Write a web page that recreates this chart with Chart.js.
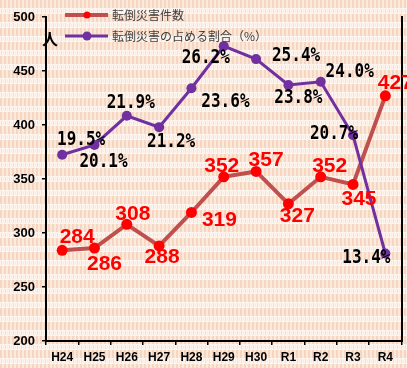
<!DOCTYPE html>
<html lang="ja">
<head>
<meta charset="utf-8">
<title>転倒災害</title>
<style>
  html, body { margin: 0; padding: 0; background: #fbeee4; }
  #chart { display: block; }
</style>
</head>
<body>
<canvas id="chart" width="407" height="368"></canvas>
<script src="https://cdn.jsdelivr.net/npm/chart.js"></script>
<script>
// data
const years = ['H24', 'H25', 'H26', 'H27', 'H28', 'H29', 'H30', 'R1', 'R2', 'R3', 'R4'];
const accidentCounts = [284, 286, 308, 288, 319, 352, 357, 327, 352, 345, 427];
const accidentShare = [19.5, 20.1, 21.9, 21.2, 23.6, 26.2, 25.4, 23.8, 24.0, 20.7, 13.4];
const countLabel = '転倒災害件数';
const shareLabel = '転倒災害の占める割合（%）';

// where each value label sits relative to its point (px)
const countLabelOffsets = [[15, -13], [10, 16], [6, -10], [3, 11], [28, 8], [-2, -11], [10, -11], [9, 12], [9, -11], [6, 15], [10, -13]];
const shareLabelOffsets = [[19, -15], [9, 17], [4, -13], [12, 15], [34, 14], [-18, 12], [40, -3], [10, 13], [29, -10], [-19, -1], [-19, 4]];

// peach striped background like the original
function makePattern(ctx) {
  const p = document.createElement('canvas');
  p.width = 4; p.height = 14;
  const g = p.getContext('2d');
  g.fillStyle = '#fdf4ee';
  g.fillRect(0, 0, 4, 14);
  g.fillStyle = '#f6d6c0';
  g.fillRect(0, 0, 2, 8);
  g.fillStyle = '#fbe9dc';
  g.fillRect(2, 0, 2, 8);
  g.fillStyle = '#f6e0d2';
  g.fillRect(1, 9, 1, 4);
  g.fillStyle = '#faeadf';
  g.fillRect(3, 10, 1, 2);
  return ctx.createPattern(p, 'repeat');
}

const backdrop = {
  id: 'backdrop',
  beforeDraw(chart) {
    const ctx = chart.ctx;
    ctx.save();
    ctx.fillStyle = makePattern(ctx);
    ctx.fillRect(0, 0, chart.width, chart.height);
    ctx.restore();
  }
};

const extras = {
  id: 'extras',
  afterDatasetsDraw(chart) {
    const ctx = chart.ctx;
    ctx.save();
    // 人
    ctx.fillStyle = '#000';
    ctx.font = 'bold 16px "Noto Sans CJK JP"';
    ctx.textAlign = 'center';
    ctx.textBaseline = 'middle';
    ctx.fillText('人', 50, 39);

    // legend
    const items = [
      { text: countLabel, y: 15, line: '#c0504d', dot: '#ff0000', r: 3.5, w: 4 },
      { text: shareLabel, y: 36, line: '#7030a0', dot: '#7030a0', r: 4.5, w: 3 }
    ];
    items.forEach(it => {
      ctx.strokeStyle = it.line;
      ctx.lineWidth = it.w;
      ctx.beginPath();
      ctx.moveTo(65, it.y);
      ctx.lineTo(108, it.y);
      ctx.stroke();
      ctx.fillStyle = it.dot;
      ctx.beginPath();
      ctx.arc(87, it.y, it.r, 0, Math.PI * 2);
      ctx.fill();
      ctx.fillStyle = '#404040';
      ctx.font = '12px "Noto Sans CJK JP"';
      ctx.textAlign = 'left';
      ctx.fillText(it.text, 112, it.y);
    });

    // value labels
    const m0 = chart.getDatasetMeta(0);
    const m1 = chart.getDatasetMeta(1);
    ctx.textAlign = 'center';
    ctx.textBaseline = 'middle';
    ctx.fillStyle = '#ff0000';
    ctx.font = 'bold 21px "Liberation Sans Narrow", "Liberation Sans", Arial';
    m0.data.forEach((pt, i) => {
      const o = countLabelOffsets[i];
      ctx.fillText(String(accidentCounts[i]), pt.x + o[0], pt.y + o[1]);
    });
    ctx.fillStyle = '#000';
    ctx.font = 'bold 20px "DejaVu Sans Mono"';
    m1.data.forEach((pt, i) => {
      const o = shareLabelOffsets[i];
      ctx.save();
      ctx.translate(pt.x + o[0], pt.y + o[1]);
      ctx.scale(0.8, 1);
      ctx.fillText(accidentShare[i].toFixed(1) + '%', 0, 0);
      ctx.restore();
    });
    ctx.restore();
  }
};

const ctx = document.getElementById('chart').getContext('2d');
new Chart(ctx, {
  type: 'line',
  data: {
    labels: years,
    datasets: [
      {
        label: countLabel,
        data: accidentCounts,
        yAxisID: 'y',
        borderColor: '#c0504d',
        borderWidth: 4,
        pointBackgroundColor: '#ff0000',
        pointBorderColor: '#ff0000',
        pointRadius: 5.5,
        pointBorderWidth: 0,
        tension: 0,
        order: 2
      },
      {
        label: shareLabel,
        data: accidentShare,
        yAxisID: 'y1',
        borderColor: '#7030a0',
        borderWidth: 3,
        pointBackgroundColor: '#7030a0',
        pointBorderColor: '#7030a0',
        pointRadius: 5,
        pointBorderWidth: 0,
        tension: 0,
        order: 1
      }
    ]
  },
  options: {
    responsive: false,
    devicePixelRatio: 1,
    animation: false,
    layout: { padding: { top: 17, left: 0, right: 0, bottom: 0 } },
    plugins: {
      legend: { display: false },
      tooltip: { enabled: false }
    },
    scales: {
      x: {
        offset: true,
        grid: { display: true, drawOnChartArea: false, drawTicks: true, tickLength: 4, color: '#000', lineWidth: 1.5, offset: true },
        border: { display: true, color: '#000', width: 2 },
        ticks: { color: '#000', font: { family: 'Liberation Sans, Arial', size: 12, weight: 'bold' }, padding: 5, maxRotation: 0, autoSkip: false },
        afterFit(scale) { scale.height = 27; }
      },
      y: {
        position: 'left',
        min: 200,
        max: 500,
        ticks: { stepSize: 50, color: '#000', font: { family: 'Liberation Sans, Arial', size: 13, weight: 'bold' }, padding: 7 },
        grid: { display: true, drawOnChartArea: false, drawTicks: true, tickLength: 4, color: '#000', lineWidth: 1.5 },
        border: { display: true, color: '#000', width: 2 },
        afterFit(scale) { scale.width = 46; }
      },
      y1: {
        position: 'right',
        min: 8,
        max: 28,
        ticks: { display: false },
        grid: { display: false },
        border: { display: true, color: '#000', width: 2 },
        afterFit(scale) { scale.width = 3; }
      }
    }
  },
  plugins: [backdrop, extras]
});
</script>
</body>
</html>
